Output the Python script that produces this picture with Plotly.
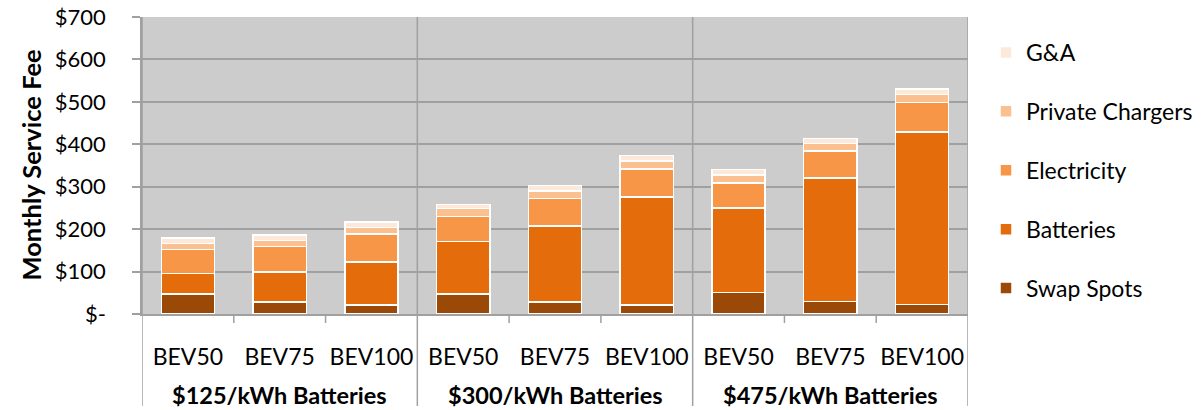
import plotly.graph_objects as go

groups = ["$125/kWh Batteries", "$300/kWh Batteries", "$475/kWh Batteries"]
vehicles = ["BEV50", "BEV75", "BEV100"]

swap_spots = [47, 28, 21, 47, 28, 21, 51, 29, 22]
batteries = [49, 71, 102, 124, 180, 255, 199, 292, 407]
electricity = [56, 60, 65, 59, 64, 66, 59, 63, 70]
private_chargers = [14, 14, 16, 19, 18, 19, 19, 18, 18]
g_and_a = [13, 13, 13, 9, 13, 12, 12, 12, 13]

series = [
    ("Swap Spots", swap_spots, "#9A4A06"),
    ("Batteries", batteries, "#E46C0A"),
    ("Electricity", electricity, "#F79646"),
    ("Private Chargers", private_chargers, "#FAC090"),
    ("G&A", g_and_a, "#FDE9D9"),
]

y_ticks = [0, 100, 200, 300, 400, 500, 600, 700]
y_ticktext = ["$-", "$100", "$200", "$300", "$400", "$500", "$600", "$700"]

labels = [v for g in groups for v in vehicles]
xpos = list(range(len(labels)))

FONT = "Lato"
GRID = "#A0A0A0"

fig = go.Figure()
for i, (name, vals, color) in enumerate(series):
    fig.add_trace(go.Bar(
        x=xpos, y=vals, name=name, legendgroup=name, legendrank=len(series) - i,
        marker=dict(color=color, line=dict(color="white", width=1.5)),
    ))

plot_h = 314 - 17
below = 96

shapes = []
for xv in [-0.5, 2.5, 5.5, 8.5]:
    shapes.append(dict(type="line", xref="x", yref="paper", x0=xv, x1=xv,
                       y0=-(below - 4) / plot_h, y1=1, line=dict(color=GRID, width=1.5),
                       layer="above"))
for xv in [0.5, 1.5, 3.5, 4.5, 6.5, 7.5]:
    shapes.append(dict(type="line", xref="x", yref="paper", x0=xv, x1=xv,
                       y0=-9 / plot_h, y1=0, line=dict(color=GRID, width=1.5)))

annotations = []
for i, g in enumerate(groups):
    annotations.append(dict(x=i * 3 + 1, y=-81 / plot_h, xref="x", yref="paper",
                            text="<b>" + g + "</b>", showarrow=False,
                            font=dict(family=FONT, size=23.5, color="black"),
                            xanchor="center", yanchor="middle"))
annotations.append(dict(x=(30 - 142) / 826, y=0.5, xref="paper", yref="paper",
                        text="<b>Monthly Service Fee</b>", textangle=-90, showarrow=False,
                        font=dict(family=FONT, size=25.5, color="black"),
                        xanchor="center", yanchor="middle"))

fig.update_layout(
    width=1202, height=410,
    margin=dict(l=142, r=234, t=17, b=below, autoexpand=False),
    barmode="stack", bargap=0.42,
    plot_bgcolor="#CCCCCC", paper_bgcolor="white",
    font=dict(family=FONT, size=21, color="black"),
    showlegend=True,
    legend=dict(traceorder="grouped", tracegroupgap=26, maxheight=400,
                xref="container", yref="container", x=986 / 1202, y=(410 - 31) / 410,
                xanchor="left", yanchor="top", font=dict(family=FONT, size=23),
                bgcolor="rgba(0,0,0,0)"),
    xaxis=dict(range=[-0.5, 8.5], tickvals=xpos, ticktext=labels, ticks="",
               showgrid=False, zeroline=False, showline=True, linecolor=GRID, linewidth=1.5,
               ticklabelstandoff=22, tickfont=dict(family=FONT, size=23), automargin=False),
    yaxis=dict(range=[0, 700], tickvals=y_ticks, ticktext=y_ticktext,
               showgrid=True, gridcolor=GRID, gridwidth=1.5, zeroline=False,
               showline=True, linecolor=GRID, linewidth=1.5,
               ticks="outside", ticklen=8, tickcolor=GRID, tickwidth=1.5,
               ticklabelstandoff=22, tickfont=dict(family=FONT, size=22), automargin=False),
    shapes=shapes, annotations=annotations,
)

fig.write_html("out.html", config={"displayModeBar": False},
               post_script="document.body.style.margin='0px';")
